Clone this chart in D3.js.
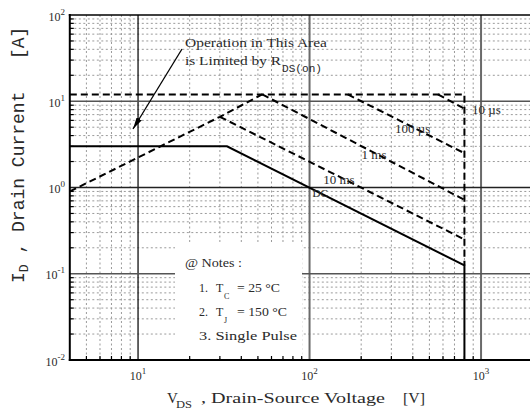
<!DOCTYPE html>
<html>
<head>
<meta charset="utf-8">
<script src="https://cdn.jsdelivr.net/npm/d3@7"></script>
<style>
  html, body { margin: 0; padding: 0; background: #fff; }
  svg { display: block; }
</style>
</head>
<body>
<svg id="chart" width="530" height="416"></svg>
<script>
// Axis extents and decade ticks
const xDomain = [4, 2000];
const yDomain = [0.01, 100];
const xDecades = [10, 100, 1000];
const xDecadeExp = ["1", "2", "3"];
const yDecades = [0.01, 0.1, 1, 10, 100];
const yDecadeExp = ["-2", "-1", "0", "1", "2"];

// Safe operating area boundaries: VDS [V] vs ID [A]
const rdsV = [4, 30, 53];          // limited by RDS(on)
const rdsI = [0.9, 6.6, 12];
const idmV = [4, 800, 800];        // pulsed current / breakdown limit
const idmI = [12, 12, 0.125];
const us10V = [560, 800];
const us10I = [12, 8.2];
const us100V = [167, 800];
const us100I = [12, 2.5];
const ms1V = [53, 800];
const ms1I = [12, 0.72];
const ms10V = [30, 800];
const ms10I = [6.6, 0.25];
const dcV = [4, 33, 800, 800];
const dcI = [3, 3, 0.125, 0.01];

// Curve labels anchored in data space
const curveLabels = ["10 \u00b5s", "100 \u00b5s", "1 ms", "10 ms", "DC"];
const labelV = [886, 315, 201, 120, 104];
const labelI = [7.2, 4.25, 2.15, 1.11, 0.774];

const svg = d3.select("#chart");
const plotLeft = 69.8, plotTop = 15, plotBottom = 360;
const x = d3.scaleLog().domain(xDomain).range([plotLeft, plotLeft + 171.5 * Math.log10(xDomain[1] / xDomain[0])]);
const y = d3.scaleLog().domain(yDomain).range([plotBottom, plotTop]);
const plotRight = x.range()[1];

const SERIF = "'Liberation Serif', 'DejaVu Serif', serif";
const MONO = "'Liberation Mono', 'DejaVu Sans Mono', monospace";
const INK = "#2a2a2a";

// minor grid
const minorX = [];
[1, 10, 100, 1000].forEach(d => { for (let m = 2; m <= 9; m++) { const v = m * d; if (v > xDomain[0] && v < xDomain[1]) minorX.push(v); } });
const minorY = [];
[0.01, 0.1, 1, 10].forEach(d => { for (let m = 2; m <= 9; m++) minorY.push(m * d); });

const grid = svg.append("g");
grid.selectAll("line.mx").data(minorX).join("line")
  .attr("x1", d => x(d)).attr("x2", d => x(d)).attr("y1", plotTop).attr("y2", plotBottom)
  .attr("stroke", "#9a9a9a").attr("stroke-width", 1).attr("stroke-dasharray", "2,2.5");
grid.selectAll("line.my").data(minorY).join("line")
  .attr("y1", d => y(d)).attr("y2", d => y(d)).attr("x1", plotLeft).attr("x2", plotRight)
  .attr("stroke", "#9a9a9a").attr("stroke-width", 1).attr("stroke-dasharray", "2,2.5");

// major grid
grid.selectAll("line.Mx").data(xDecades).join("line")
  .attr("x1", d => x(d)).attr("x2", d => x(d)).attr("y1", plotTop).attr("y2", plotBottom)
  .attr("stroke", d => d === 10 ? "#111" : "#6a6a6a")
  .attr("stroke-width", d => d === 10 ? 1.3 : 2);
grid.selectAll("line.My").data(yDecades.slice(1, 4)).join("line")
  .attr("y1", d => y(d)).attr("y2", d => y(d)).attr("x1", plotLeft).attr("x2", plotRight)
  .attr("stroke", d => d === 1 ? "#222" : "#555").attr("stroke-width", 1.5);

// notes panel hides the grid behind it
svg.append("rect").attr("x", 175).attr("y", 243).attr("width", 127).attr("height", 115).attr("fill", "#fff");

// curves
const line = d3.line().x(d => x(d[0])).y(d => y(d[1]));
const zip = (a, b) => a.map((v, i) => [v, b[i]]);
const dashed = [[rdsV, rdsI], [idmV, idmI], [us10V, us10I], [us100V, us100I], [ms1V, ms1I], [ms10V, ms10I]];
svg.append("g").selectAll("path").data(dashed).join("path")
  .attr("d", d => line(zip(d[0], d[1])))
  .attr("fill", "none").attr("stroke", "#000").attr("stroke-width", 2)
  .attr("stroke-dasharray", "7,4");
svg.append("path").attr("d", line(zip(dcV, dcI)))
  .attr("fill", "none").attr("stroke", "#000").attr("stroke-width", 2);

// axes frame and inward ticks
const ax = svg.append("g").attr("stroke", "#000");
ax.append("line").attr("x1", plotLeft).attr("x2", plotLeft).attr("y1", plotTop - 1).attr("y2", plotBottom + 1).attr("stroke-width", 2);
ax.append("line").attr("x1", plotLeft - 1).attr("x2", plotRight).attr("y1", plotBottom).attr("y2", plotBottom).attr("stroke-width", 2);
ax.append("line").attr("x1", plotLeft - 1).attr("x2", plotRight).attr("y1", plotTop).attr("y2", plotTop).attr("stroke-width", 1.5);
ax.selectAll("line.tx").data(minorX).join("line")
  .attr("x1", d => x(d)).attr("x2", d => x(d)).attr("y1", plotBottom).attr("y2", plotBottom - 4).attr("stroke-width", 1.2);
ax.selectAll("line.ty").data(minorY).join("line")
  .attr("y1", d => y(d)).attr("y2", d => y(d)).attr("x1", plotLeft).attr("x2", plotLeft + 4).attr("stroke-width", 1.2);

// tick labels
function power(g, px, py, exp, anchor) {
  const t = g.append("text").attr("x", px).attr("y", py).attr("text-anchor", anchor)
    .attr("font-family", SERIF).attr("font-size", 12).attr("fill", INK);
  t.append("tspan").text("10");
  t.append("tspan").attr("dy", -6).attr("font-size", 9).text(exp);
}
const lab = svg.append("g");
xDecades.forEach((d, i) => power(lab, x(d), 380, xDecadeExp[i], "middle"));
yDecades.forEach((d, i) => power(lab, 65, y(d) + 5.5, yDecadeExp[i], "end"));

// plain text helper
function txt(px, py, s, o = {}) {
  const t = svg.append("text").attr("x", px).attr("y", py)
    .attr("font-family", o.family || SERIF).attr("font-size", o.size || 12)
    .attr("fill", o.fill || INK).attr("text-anchor", o.anchor || "start").text(s);
  if (o.len) t.attr("textLength", o.len).attr("lengthAdjust", "spacingAndGlyphs");
  return t;
}

// curve labels
curveLabels.forEach((s, i) => txt(x(labelV[i]), y(labelI[i]), s, { size: i === 4 ? 11 : 13 }));

// RDS(on) annotation and arrow
txt(185, 47, "Operation in This Area", { size: 13, len: 142 });
txt(185, 65, "is Limited by R", { size: 13, len: 96 });
txt(282, 72, "DS(on)", { size: 10, family: MONO, len: 40 });
svg.append("defs").append("marker").attr("id", "head").attr("viewBox", "0 0 12 6")
  .attr("refX", 12).attr("refY", 3).attr("markerWidth", 12).attr("markerHeight", 6)
  .attr("markerUnits", "userSpaceOnUse").attr("orient", "auto")
  .append("path").attr("d", "M0,0 L12,3 L0,6 Z").attr("fill", "#000");
svg.append("line").attr("x1", 182).attr("y1", 49).attr("x2", 133).attr("y2", 129)
  .attr("stroke", "#000").attr("stroke-width", 1.3).attr("marker-end", "url(#head)");

// notes
txt(185, 267, "@ Notes :", { size: 12, len: 57 });
txt(199, 292, "1.", { size: 12 });
txt(216, 292, "T", { size: 12 });
txt(224, 299, "C", { size: 8 });
txt(237, 292, "= 25 \u00b0C", { size: 12, len: 43 });
txt(199, 316, "2.", { size: 12 });
txt(216, 316, "T", { size: 12 });
txt(224, 323, "J", { size: 8 });
txt(237, 316, "= 150 \u00b0C", { size: 12, len: 50 });
txt(199, 340, "3. Single Pulse", { size: 12, len: 98 });

// axis titles
txt(167, 403, "V", { size: 15 });
txt(176, 408, "DS", { size: 10, len: 16 });
txt(201, 403, ", Drain-Source Voltage", { size: 15, len: 184 });
txt(403, 403, "[V]", { size: 15, len: 22 });

const yt = svg.append("text").attr("transform", "translate(24,283) rotate(-90)")
  .attr("font-family", MONO).attr("font-size", 18).attr("fill", INK);
yt.append("tspan").text("I");
yt.append("tspan").attr("dy", 4).attr("font-size", 13).text("D");
yt.append("tspan").attr("dy", -4).attr("xml:space", "preserve").text(" , Drain Current   [A]");
</script>
</body>
</html>
